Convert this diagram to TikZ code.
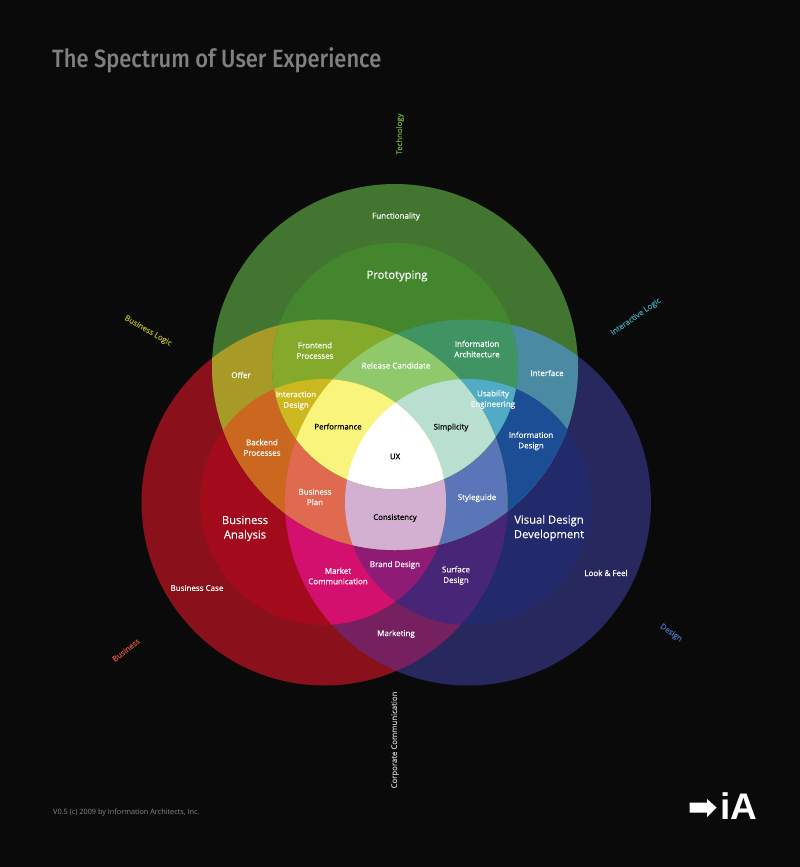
\documentclass[tikz,border=0pt]{standalone}
\usepackage{fontspec}
\setmainfont{Open Sans}
\newfontfamily\labfont[FakeBold=0.25]{Open Sans}
\newfontfamily\corefont[FakeBold=0.6]{Open Sans}
\newfontfamily\titlefont[FakeStretch=0.876,UprightFont=* Medium]{Fira Sans}
\newfontfamily\logofont{Liberation Sans}
\newcommand\reg[4]{%
  \begin{scope}
  \definecolor{regcol}{HTML}{#4}%
  \ifcase#1\or\clip (395,367) circle[radius=183];\or\clip (395,366) circle[radius=123];\fi
  \ifcase#2\or\clip (324.5,502.5) circle[radius=183];\or\clip (323,502) circle[radius=123];\fi
  \ifcase#3\or\clip (468,502.5) circle[radius=183];\or\clip (468,502) circle[radius=123];\fi
  \fill[regcol] (0,0) rectangle (800,867);
  \end{scope}}
\tikzset{
  lab/.style={text=white,font=\labfont\fontsize{8}{10.5}\selectfont,align=center,inner sep=0pt},
  core/.style={text=black,font=\corefont\fontsize{7.8}{10.5}\selectfont,align=center,inner sep=0pt},
  big/.style={text=white,font=\labfont\fontsize{11.2}{14.5}\selectfont,align=center,inner sep=0pt},
  outer/.style={font=\labfont\fontsize{7.8}{10}\selectfont,inner sep=0pt}
}
\definecolor{bg}{HTML}{0A0A0A}
\definecolor{cTech}{HTML}{6FB044}
\definecolor{cBL}{HTML}{B5B020}
\definecolor{cIL}{HTML}{3E9FB0}
\definecolor{cBus}{HTML}{D9533F}
\definecolor{cDes}{HTML}{4C6FB8}
\definecolor{cCorp}{HTML}{C8BCC8}
\definecolor{cTitle}{HTML}{808080}
\definecolor{cFoot}{HTML}{8A8A8A}
\begin{document}
\begin{tikzpicture}[x=1pt,y=-1pt]
\useasboundingbox (0,0) rectangle (800,867);
\fill[bg] (0,0) rectangle (800,867);
% regions, in lexicographic order of (Top, Left, Right) levels
\reg001{26285E}
\reg002{232A6B}
\reg010{8A111B}
\reg011{752160}
\reg012{482677}
\reg020{A30B1D}
\reg021{D3106E}
\reg022{8E1C76}
\reg100{417530}
\reg101{4A8BA3}
\reg102{1C4E96}
\reg110{A89A26}
\reg112{5A75B8}
\reg120{CC6720}
\reg121{E06A50}
\reg122{D3AFD1}
\reg200{44862E}
\reg201{409463}
\reg202{52ABC5}
\reg210{84A92B}
\reg211{8FC96C}
\reg212{B9DFD0}
\reg220{CDB81F}
\reg221{F8F47C}
\reg222{FFFFFF}
% title
\node[anchor=west,inner sep=0pt,text=cTitle,font=\titlefont\fontsize{25}{28}\selectfont] (title) at (52,60) {The Spectrum of User Experience};
% region labels
\node[lab] (functionality) at (396,216.5) {Functionality};
\node[big] (prototyping) at (397,276) {Prototyping};
\node[lab] (frontend) at (315,350.5) {Frontend\\Processes};
\node[lab] (infoarch) at (477,349) {Information\\Architecture};
\node[lab] (release) at (396,365.5) {Release Candidate};
\node[lab] (offer) at (241,375) {Offer};
\node[lab] (interface) at (547,373) {Interface};
\node[lab] (interaction) at (296,400.5) {Interaction\\Design};
\node[lab] (usability) at (493,399.5) {Usability\\Engineering};
\node[core] (performance) at (338,426.5) {Performance};
\node[core] (simplicity) at (451,427.5) {Simplicity};
\node[core] (ux) at (395,456.5) {UX};
\node[lab] (backend) at (262,447.5) {Backend\\Processes};
\node[lab] (infodesign) at (531,441) {Information\\Design};
\node[lab] (busplan) at (315,497) {Business\\Plan};
\node[lab] (styleguide) at (477,498) {Styleguide};
\node[core] (consistency) at (395,518) {Consistency};
\node[big] (analysis) at (245,528.5) {Business\\Analysis};
\node[big] (visual) at (549,528) {Visual Design\\Development};
\node[lab] (brand) at (395,565) {Brand Design};
\node[lab] (market) at (338,576) {Market\\Communication};
\node[lab] (surface) at (456,575.5) {Surface\\Design};
\node[lab] (buscase) at (197,588) {Business Case};
\node[lab] (look) at (606,573) {Look \& Feel};
\node[lab] (marketing) at (396,634) {Marketing};
% discipline labels around the rim
\node[outer,text=cTech,rotate=90] (technology) at (400,134) {Technology};
\node[outer,text=cCorp,rotate=90] (corporate) at (395,740) {Corporate Communication};
\node[outer,text=cBL,rotate=-30] (buslogic) at (148,331) {Business Logic};
\node[outer,text=cIL,rotate=35] (intlogic) at (636,317) {Interactive Logic};
\node[outer,text=cBus,rotate=38] (business) at (126,650) {Business};
\node[outer,text=cDes,rotate=-35] (design) at (671,633) {Design};
% footer and logo
\node[anchor=west,inner sep=0pt,text=cFoot,font=\fontsize{7.3}{9}\selectfont] (footer) at (53,812.5) {V0.5 (c) 2009 by Information Architects, Inc.};
\fill[white] (689.5,802.5) -- (707,802.5) -- (707,799) -- (716.5,807.5) -- (707,817) -- (707,812.5) -- (689.5,812.5) -- cycle;
\node[anchor=base west,inner sep=0pt,text=white,font=\logofont\fontsize{37}{37}\selectfont\bfseries] (logo) at (720,819) {iA};
\end{tikzpicture}
\end{document}
